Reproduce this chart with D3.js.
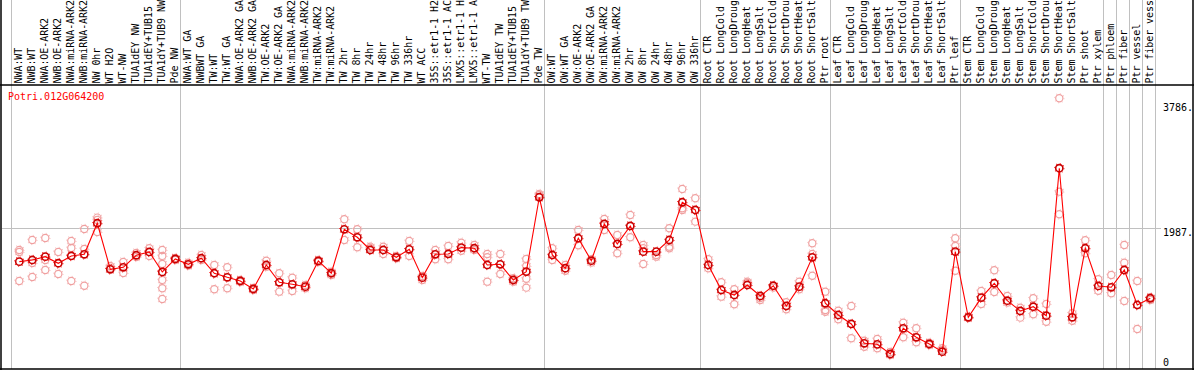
<!DOCTYPE html>
<html>
<head>
<meta charset="utf-8">
<script src="https://cdn.jsdelivr.net/npm/d3@7"></script>
<style>
  body { margin: 0; background: #fff; }
  svg { display: block; }
  text { font-family: "DejaVu Sans Mono", monospace; font-size: 10px; }
</style>
</head>
<body>
<script>
// Sample (column) names, in display order, as far as the header shows them
const samples = [
  'NWA:WT', 'NWB:WT', 'NWA:OE-ARK2', 'NWB:OE-ARK2', 'NWA:miRNA-ARK2', 'NWB:miRNA-ARK2',
  'NW 0hr', 'WT H2O', 'WT-NW', 'TUA1dEY NW', 'TUA1dEY+TUB15', 'TUA1dY+TUB9 NW', 'Pde NW',
  'NWA:WT GA', 'NWBWT GA', 'TW:WT', 'TW:WT GA', 'NWA:OE-ARK2 GA', 'NWB:OE-ARK2 GA',
  'TW:OE-ARK2', 'TW:OE-ARK2 GA', 'NWA:miRNA-ARK2', 'NWB:miRNA-ARK2', 'TW:miRNA-ARK2',
  'TW:miRNA-ARK2', 'TW 2hr', 'TW 8hr', 'TW 24hr', 'TW 48hr', 'TW 96hr', 'TW 336hr',
  'WT ACC', '35S::etr1-1 H2', '35S::etr1-1 AC', 'LMX5::etr1-1 H', 'LMX5::etr1-1 A',
  'WT-TW', 'TUA1dEY TW', 'TUA1dEY+TUB15', 'TUA1dY+TUB9 TW', 'Pde TW',
  'OW:WT', 'OW:WT GA', 'OW:OE-ARK2', 'OW:OE-ARK2 GA', 'OW:miRNA-ARK2', 'OW:miRNA-ARK2',
  'OW 2hr', 'OW 8hr', 'OW 24hr', 'OW 48hr', 'OW 96hr', 'OW 336hr',
  'Root CTR', 'Root LongCold', 'Root LongDroug', 'Root LongHeat', 'Root LongSalt',
  'Root ShortCold', 'Root ShortDrou', 'Root ShortHeat', 'Root ShortSalt', 'Ptr root',
  'Leaf CTR', 'Leaf LongCold', 'Leaf LongDroug', 'Leaf LongHeat', 'Leaf LongSalt',
  'Leaf ShortCold', 'Leaf ShortDrou', 'Leaf ShortHeat', 'Leaf ShortSalt', 'Ptr leaf',
  'Stem CTR', 'Stem LongCold', 'Stem LongDroug', 'Stem LongHeat', 'Stem LongSalt',
  'Stem ShortCold', 'Stem ShortDrou', 'Stem ShortHeat', 'Stem ShortSalt', 'Ptr shoot',
  'Ptr xylem', 'Ptr phloem', 'Ptr fiber', 'Ptr vessel', 'Ptr fiber vess'
];

// Mean expression per sample
const means = [
  1502, 1526, 1574, 1479, 1584, 1608, 2055, 1392, 1421, 1594, 1642, 1354, 1541,
  1464, 1551, 1335, 1277, 1224, 1109, 1454, 1205, 1176, 1142, 1512, 1335, 1968,
  1853, 1670, 1670, 1565, 1680, 1272, 1608, 1613, 1704, 1695, 1454, 1464, 1238,
  1358, 2429,
  1598, 1407, 1839, 1516, 2045, 1757, 2016, 1646, 1646, 1814, 2357, 2246,
  1454, 1094, 1022, 1166, 1008, 1156, 864, 1142, 1565, 903,
  734, 605, 327, 312, 173, 543, 413, 317, 206, 1646,
  701, 984, 1191, 940, 792, 854, 724, 2847, 701, 1695, 1152,
  1133, 1382, 878, 975
];

// Individual replicate values per sample
const replicates = [
  [1670, 1642, 1224], [1814, 1483, 1282], [1843, 1526, 1382], [1642, 1325],
  [1800, 1699, 1224], [1973, 1685, 1156], [2136, 2102, 1930], [1440, 1411],
  [1498, 1339], [1627, 1570], [1695, 1584], [1670, 1584, 1469, 1238, 1119, 965],
  [1555, 1526],
  [1488, 1447], [1598, 1526], [1454, 1104], [1421, 1119], [1238, 1210],
  [1123, 1094], [1516, 1430], [1335, 1070], [1272, 1080], [1166, 1119],
  [1526, 1498], [1358, 1310], [2112, 1814], [1968, 1709], [1718, 1695],
  [1718, 1613], [1551, 1584], [1800, 1584], [1238, 1296], [1670, 1537],
  [1728, 1537], [1776, 1660], [1742, 1670], [1613, 1565, 1214], [1613, 1325],
  [1263, 1214], [1541, 1440, 1257, 1128], [2477, 2462],
  [1695, 1526], [1454, 1372], [1958, 1738], [1537, 1488], [2117, 1958],
  [1886, 1623], [2174, 1853], [1742, 1695, 1469], [1598, 1574],
  [1983, 1718, 1695], [2549, 2271, 2246], [2415, 2078],
  [1537, 1407], [1205, 998], [1104, 888], [1214, 1195], [950, 979],
  [1152, 1128], [917, 816], [1214, 1104], [1767, 1613, 1300], [1070, 806, 782],
  [796, 672], [864, 399], [364, 278], [389, 255], [202, 158], [624, 413],
  [543, 341], [336, 302], [255, 230], [1839, 1728, 1372],
  [710, 691], [1080, 893], [1378, 1066], [1008, 912], [840, 696], [975, 744],
  [893, 638], [3855, 2510, 2184], [759, 652], [1810, 1623], [1248, 1084],
  [1310, 1047], [1742, 1488, 936], [1224, 533], [950, 989]
];

// Column indices where a grey separator line is drawn (line sits at the start of that column)
const separators = [0, 13, 41, 53, 63, 73, 84, 85, 86, 87, 88];

const yTicks = [0, 1987, 3786];
const yTickLabels = ['0', '1987.', '3786.'];
const gridTicks = [1987];
const geneId = 'Potri.012G064200';

// Layout
const width = 1194;
const height = 370;
const headerBottom = 85;
const plotBottom = 369;

const svg = d3.select('body')
  .append('svg')
  .attr('width', width)
  .attr('height', height);

svg.append('rect')
  .attr('width', width)
  .attr('height', height)
  .attr('fill', '#fff');

// Scales
const x = d3.scaleBand()
  .domain(d3.range(samples.length + 1))
  .range([11, 11 + 13 * (samples.length + 1)]);
const pointOffset = 8.3;
const cx = i => x(i) + pointOffset;

const y = d3.scaleLinear()
  .domain([0, 3786])
  .range([366, 103]);

// Grey separators (full height)
svg.append('g')
  .selectAll('line')
  .data(separators)
  .enter()
  .append('line')
  .attr('x1', d => x(d) + 0.5)
  .attr('x2', d => x(d) + 0.5)
  .attr('y1', 0)
  .attr('y2', plotBottom)
  .attr('stroke', '#c0c0c0')
  .attr('stroke-width', 1);

// Horizontal grid line(s)
svg.append('g')
  .selectAll('line')
  .data(gridTicks)
  .enter()
  .append('line')
  .attr('x1', 2)
  .attr('x2', 1161)
  .attr('y1', d => Math.round(y(d)) + 0.5)
  .attr('y2', d => Math.round(y(d)) + 0.5)
  .attr('stroke', '#c0c0c0')
  .attr('stroke-width', 1);

// Frame lines
const frame = svg.append('g').attr('stroke', '#000').attr('stroke-width', 1.5);
frame.append('line').attr('x1', 1).attr('x2', 1).attr('y1', 0).attr('y2', plotBottom + 1);
frame.append('line').attr('x1', width - 1).attr('x2', width - 1).attr('y1', 0).attr('y2', plotBottom + 1);
frame.append('line').attr('x1', 0).attr('x2', width).attr('y1', headerBottom).attr('y2', headerBottom);
frame.append('line').attr('x1', 0).attr('x2', width).attr('y1', plotBottom).attr('y2', plotBottom);

// Column labels (rotated)
svg.append('g')
  .selectAll('text')
  .data(samples)
  .enter()
  .append('text')
  .attr('transform', (d, i) => `translate(${cx(i) + 2.5},${headerBottom - 1.5}) rotate(-90)`)
  .attr('fill', '#000')
  .style('letter-spacing', '-0.06px')
  .text(d => d);

// Gene id
svg.append('text')
  .attr('x', 8)
  .attr('y', 100)
  .attr('fill', '#ff0000')
  .text(geneId);

// Right axis labels
svg.append('g')
  .selectAll('text')
  .data(yTicks)
  .enter()
  .append('text')
  .attr('x', 1163)
  .attr('y', d => Math.min(y(d) + 8, 366))
  .attr('fill', '#000')
  .text((d, i) => yTickLabels[i]);

// Marker helper: ring plus small spikes
function marker(g, px, py, ring, spikes, sw) {
  g.append('circle')
    .attr('cx', px).attr('cy', py).attr('r', 4.7)
    .attr('fill', 'none')
    .attr('stroke', spikes)
    .attr('stroke-width', 1.1)
    .attr('stroke-dasharray', '0.9 2.79');
  g.append('circle')
    .attr('cx', px).attr('cy', py).attr('r', 3.6)
    .attr('fill', 'none')
    .attr('stroke', ring)
    .attr('stroke-width', sw);
}

// Replicates
const repG = svg.append('g');
replicates.forEach((vals, i) => {
  vals.forEach(v => marker(repG, cx(i), y(v), '#f0a0a0', '#f6c4c4', 1.2));
});

// Mean line
const line = d3.line()
  .x((d, i) => cx(i))
  .y(d => y(d));

svg.append('path')
  .datum(means)
  .attr('d', line)
  .attr('fill', 'none')
  .attr('stroke', '#ff0000')
  .attr('stroke-width', 1.1);

// Mean markers
const meanG = svg.append('g');
means.forEach((v, i) => marker(meanG, cx(i), y(v), '#c80000', '#ff2020', 1.6));
</script>
</body>
</html>
